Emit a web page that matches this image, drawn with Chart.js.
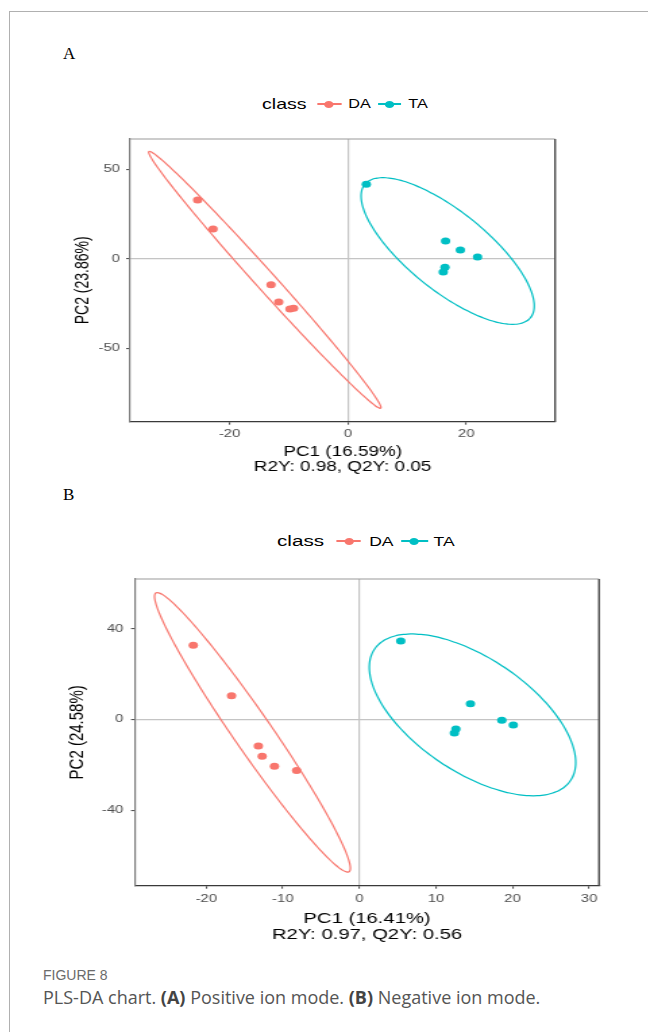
<!DOCTYPE html>
<html>
<head>
<meta charset="utf-8">
<script src="https://cdn.jsdelivr.net/npm/chart.js@4.4.0/dist/chart.umd.min.js"></script>
<style>
  html, body { margin: 0; padding: 0; background: #fff; }
  body { width: 648px; height: 1032px; position: relative; overflow: hidden; font-family: "Liberation Sans", Arial, sans-serif; }
  .frame { position: absolute; left: 9px; top: 11px; right: -2px; bottom: -2px; border-top: 1px solid #b0b0b0; border-left: 1px solid #b0b0b0; }
  .letter { position: absolute; left: 63px; font-family: "Liberation Serif", serif; font-size: 17px; line-height: 18px; }
  /* the figure panels are stretched sideways in the source image */
  .stretch { position: absolute; transform: scaleX(1.35); transform-origin: 0 0; }
  .legend { height: 20px; display: flex; align-items: center; white-space: nowrap; color: #000; }
  .key { position: relative; display: inline-block; height: 20px; }
  .key .ln { position: absolute; left: 0; right: 0; top: 9.4px; height: 1.3px; }
  .key .dot { position: absolute; left: 50%; top: 10px; width: 7px; height: 7px; margin: -3.5px 0 0 -3.5px; border-radius: 50%; }
  .fig { position: absolute; left: 43px; top: 967px; font-size: 14px; line-height: 16px; color: #6b6b6b; }
  .cap { position: absolute; left: 43px; top: 985px; font-family: "Open Sans", sans-serif; font-size: 18px; line-height: 24px; color: #555; white-space: nowrap; }
  .cap b { font-weight: 700; color: #444; }
</style>
</head>
<body>
<div class="frame"></div>

<div class="letter" style="top:45px">A</div>
<div class="stretch legend" style="left:262px; top:94px">
  <span style="font-size:14.5px; margin-right:8px">class</span>
  <span class="key" style="width:17.8px"><span class="ln" id="lnA0"></span><span class="dot" id="dotA0"></span></span>
  <span style="font-size:12px; margin-left:5px; margin-right:5px">DA</span>
  <span class="key" style="width:17.8px"><span class="ln" id="lnA1"></span><span class="dot" id="dotA1"></span></span>
  <span style="font-size:12px; margin-left:5px">TA</span>
</div>
<div class="stretch" style="left:60px; top:125px"><canvas id="chartA" width="378" height="360"></canvas></div>

<div class="letter" style="top:486px">B</div>
<div class="stretch legend" style="left:277px; top:531px">
  <span style="font-size:15.3px; margin-right:8.9px">class</span>
  <span class="key" style="width:18.5px"><span class="ln" id="lnB0"></span><span class="dot" id="dotB0"></span></span>
  <span style="font-size:13px; margin-left:6px; margin-right:6px">DA</span>
  <span class="key" style="width:19.3px"><span class="ln" id="lnB1"></span><span class="dot" id="dotB1"></span></span>
  <span style="font-size:13px; margin-left:4.4px">TA</span>
</div>
<div class="stretch" style="left:60px; top:565px"><canvas id="chartB" width="410" height="385"></canvas></div>

<div class="fig">FIGURE 8</div>
<div class="cap">PLS-DA chart. <b>(A)</b> Positive ion mode. <b>(B)</b> Negative ion mode.</div>

<script>
var classNames = ["DA", "TA"];
var classColors = ["#F8766D", "#00BFC4"];

// (A) positive ion mode, PLS-DA scores
var posDaPC1 = [-25.4, -22.8, -13.0, -11.7, -9.8, -9.2];
var posDaPC2 = [32.8, 16.6, -14.5, -24.2, -28.1, -27.7];
var posTaPC1 = [3.1, 16.5, 19.0, 21.9, 16.4, 16.1];
var posTaPC2 = [41.6, 9.9, 4.9, 0.9, -4.8, -7.4];
// ellipse: centre x, centre y, top vertex dx, dy, half chord through centre
var posDaEllipse = [-14.05, -11.8, -19.5, 71.8, 2.2];
var posTaEllipse = [16.85, 4.3, -10.95, 41.0, 9.7];
var posXTicks = [-20, 0, 20];
var posYTicks = [-50, 0, 50];
var posXRange = [-36.8, 35.0];
var posYRange = [-91.1, 66.9];

// (B) negative ion mode
var negDaPC1 = [-21.7, -16.7, -13.2, -12.7, -11.1, -8.2];
var negDaPC2 = [32.6, 10.4, -11.8, -16.3, -20.7, -22.5];
var negTaPC1 = [5.4, 14.5, 18.6, 20.1, 12.6, 12.4];
var negTaPC2 = [34.5, 6.9, -0.4, -2.5, -4.3, -6.0];
var negDaEllipse = [-13.97, -5.75, -12.43, 61.55, 3.0];
var negTaEllipse = [14.77, 1.95, -7.93, 35.65, 10.9];
var negXTicks = [-20, -10, 0, 10, 20, 30];
var negYTicks = [-40, 0, 40];
var negXRange = [-29.3, 31.3];
var negYRange = [-73.3, 61.8];

function toPoints(xs, ys) {
    return xs.map(function (x, i) { return { x: x, y: ys[i] }; });
}

function ellipsePoints(e) {
    var pts = [];
    for (var a = 0; a <= 360; a += 3) {
        var t = a * Math.PI / 180;
        pts.push({ x: e[0] + Math.cos(t) * e[2] + Math.sin(t) * e[4], y: e[1] + Math.cos(t) * e[3] });
    }
    return pts;
}

var panelBorder = {
    id: "panelBorder",
    afterDatasetsDraw: function (chart) {
        var a = chart.chartArea, ctx = chart.ctx;
        ctx.save();
        ctx.strokeStyle = "#9a9a9a";
        ctx.lineWidth = 1.2;
        ctx.beginPath(); ctx.moveTo(a.left, a.top); ctx.lineTo(a.right, a.top); ctx.stroke();
        ctx.strokeStyle = "#4a4a4a";
        ctx.lineWidth = 1.4;
        ctx.beginPath(); ctx.moveTo(a.right, a.top); ctx.lineTo(a.right, a.bottom); ctx.stroke();
        ctx.restore();
    }
};

function zeroLine(c) {
    return c.tick && c.tick.value === 0 ? "#c4c4c4" : "rgba(0,0,0,0)";
}

function makeChart(id, p) {
    var ctx = document.getElementById(id).getContext("2d");
    return new Chart(ctx, {
        type: "scatter",
        data: {
            datasets: [
                // small tension keeps Chart.js off its fast path, which flattens the ellipse ends
                { label: classNames[0] + " ellipse", data: ellipsePoints(p.daEllipse), showLine: true, pointRadius: 0,
                  borderColor: classColors[0], borderWidth: 1.2, fill: false, tension: 0.2 },
                { label: classNames[1] + " ellipse", data: ellipsePoints(p.taEllipse), showLine: true, pointRadius: 0,
                  borderColor: classColors[1], borderWidth: 1.2, fill: false, tension: 0.2 },
                { label: classNames[0], data: p.da, pointRadius: 3.5, borderWidth: 0,
                  backgroundColor: classColors[0], pointHoverRadius: 3.5 },
                { label: classNames[1], data: p.ta, pointRadius: 3.5, borderWidth: 0,
                  backgroundColor: classColors[1], pointHoverRadius: 3.5 }
            ]
        },
        options: {
            responsive: false,
            animation: false,
            devicePixelRatio: 1,
            layout: { padding: { top: 14, right: p.padRight, bottom: 0, left: 0 } },
            plugins: { legend: { display: false }, tooltip: { enabled: false } },
            scales: {
                x: {
                    type: "linear", min: p.xRange[0], max: p.xRange[1],
                    afterBuildTicks: function (s) { s.ticks = p.xTicks.map(function (v) { return { value: v }; }); },
                    afterFit: function (s) { s.height = p.xHeight; },
                    grid: { color: zeroLine, lineWidth: 1.2, tickColor: "#444", tickLength: 3, tickWidth: 1 },
                    border: { display: true, color: "#3a3a3a", width: 1.3 },
                    ticks: { color: "#4d4d4d", font: { family: "Liberation Sans", size: 11 }, padding: p.xTickPad, maxRotation: 0 },
                    title: { display: true, text: p.xTitle, color: "#000",
                             font: { family: "Liberation Sans", size: p.titleSize, lineHeight: p.titleLine },
                             padding: { top: 0, bottom: p.xTitlePad } }
                },
                y: {
                    type: "linear", min: p.yRange[0], max: p.yRange[1],
                    afterBuildTicks: function (s) { s.ticks = p.yTicks.map(function (v) { return { value: v }; }); },
                    afterFit: function (s) { s.width = p.yWidth; },
                    grid: { color: zeroLine, lineWidth: 1.2, tickColor: "#444", tickLength: 3, tickWidth: 1 },
                    border: { display: true, color: "#7a7a7a", width: 1.2 },
                    ticks: { color: "#4d4d4d", font: { family: "Liberation Sans", size: 11 }, padding: p.yTickPad },
                    title: { display: true, text: p.yTitle, color: "#000",
                             font: { family: "Liberation Sans", size: p.titleSize },
                             padding: { top: p.yTitlePad, bottom: 0 } }
                }
            }
        },
        plugins: [panelBorder]
    });
}

["A0", "A1", "B0", "B1"].forEach(function (k) {
    var c = classColors[+k.charAt(1)];
    document.getElementById("ln" + k).style.background = c;
    document.getElementById("dot" + k).style.background = c;
});

makeChart("chartA", {
    da: toPoints(posDaPC1, posDaPC2), ta: toPoints(posTaPC1, posTaPC2),
    daEllipse: posDaEllipse, taEllipse: posTaEllipse,
    xTicks: posXTicks, yTicks: posYTicks, xRange: posXRange, yRange: posYRange,
    xTitle: ["PC1 (16.59%)", "R2Y: 0.98, Q2Y: 0.05"], yTitle: "PC2 (23.86%)",
    titleSize: 14, titleLine: 1.1,
    padRight: 11.3, yWidth: 52, xHeight: 63.3,
    xTickPad: 2.4, yTickPad: 4.6, xTitlePad: 9.8, yTitlePad: 8.6
});

makeChart("chartB", {
    da: toPoints(negDaPC1, negDaPC2), ta: toPoints(negTaPC1, negTaPC2),
    daEllipse: negDaEllipse, taEllipse: negTaEllipse,
    xTicks: negXTicks, yTicks: negYTicks, xRange: negXRange, yRange: negYRange,
    xTitle: ["PC1 (16.41%)", "R2Y: 0.97, Q2Y: 0.56"], yTitle: "PC2 (24.58%)",
    titleSize: 15, titleLine: 1.07,
    padRight: 10.7, yWidth: 55.6, xHeight: 64.3,
    xTickPad: 3.5, yTickPad: 5.7, xTitlePad: 7.5, yTitlePad: 3.6
});
</script>
</body>
</html>
